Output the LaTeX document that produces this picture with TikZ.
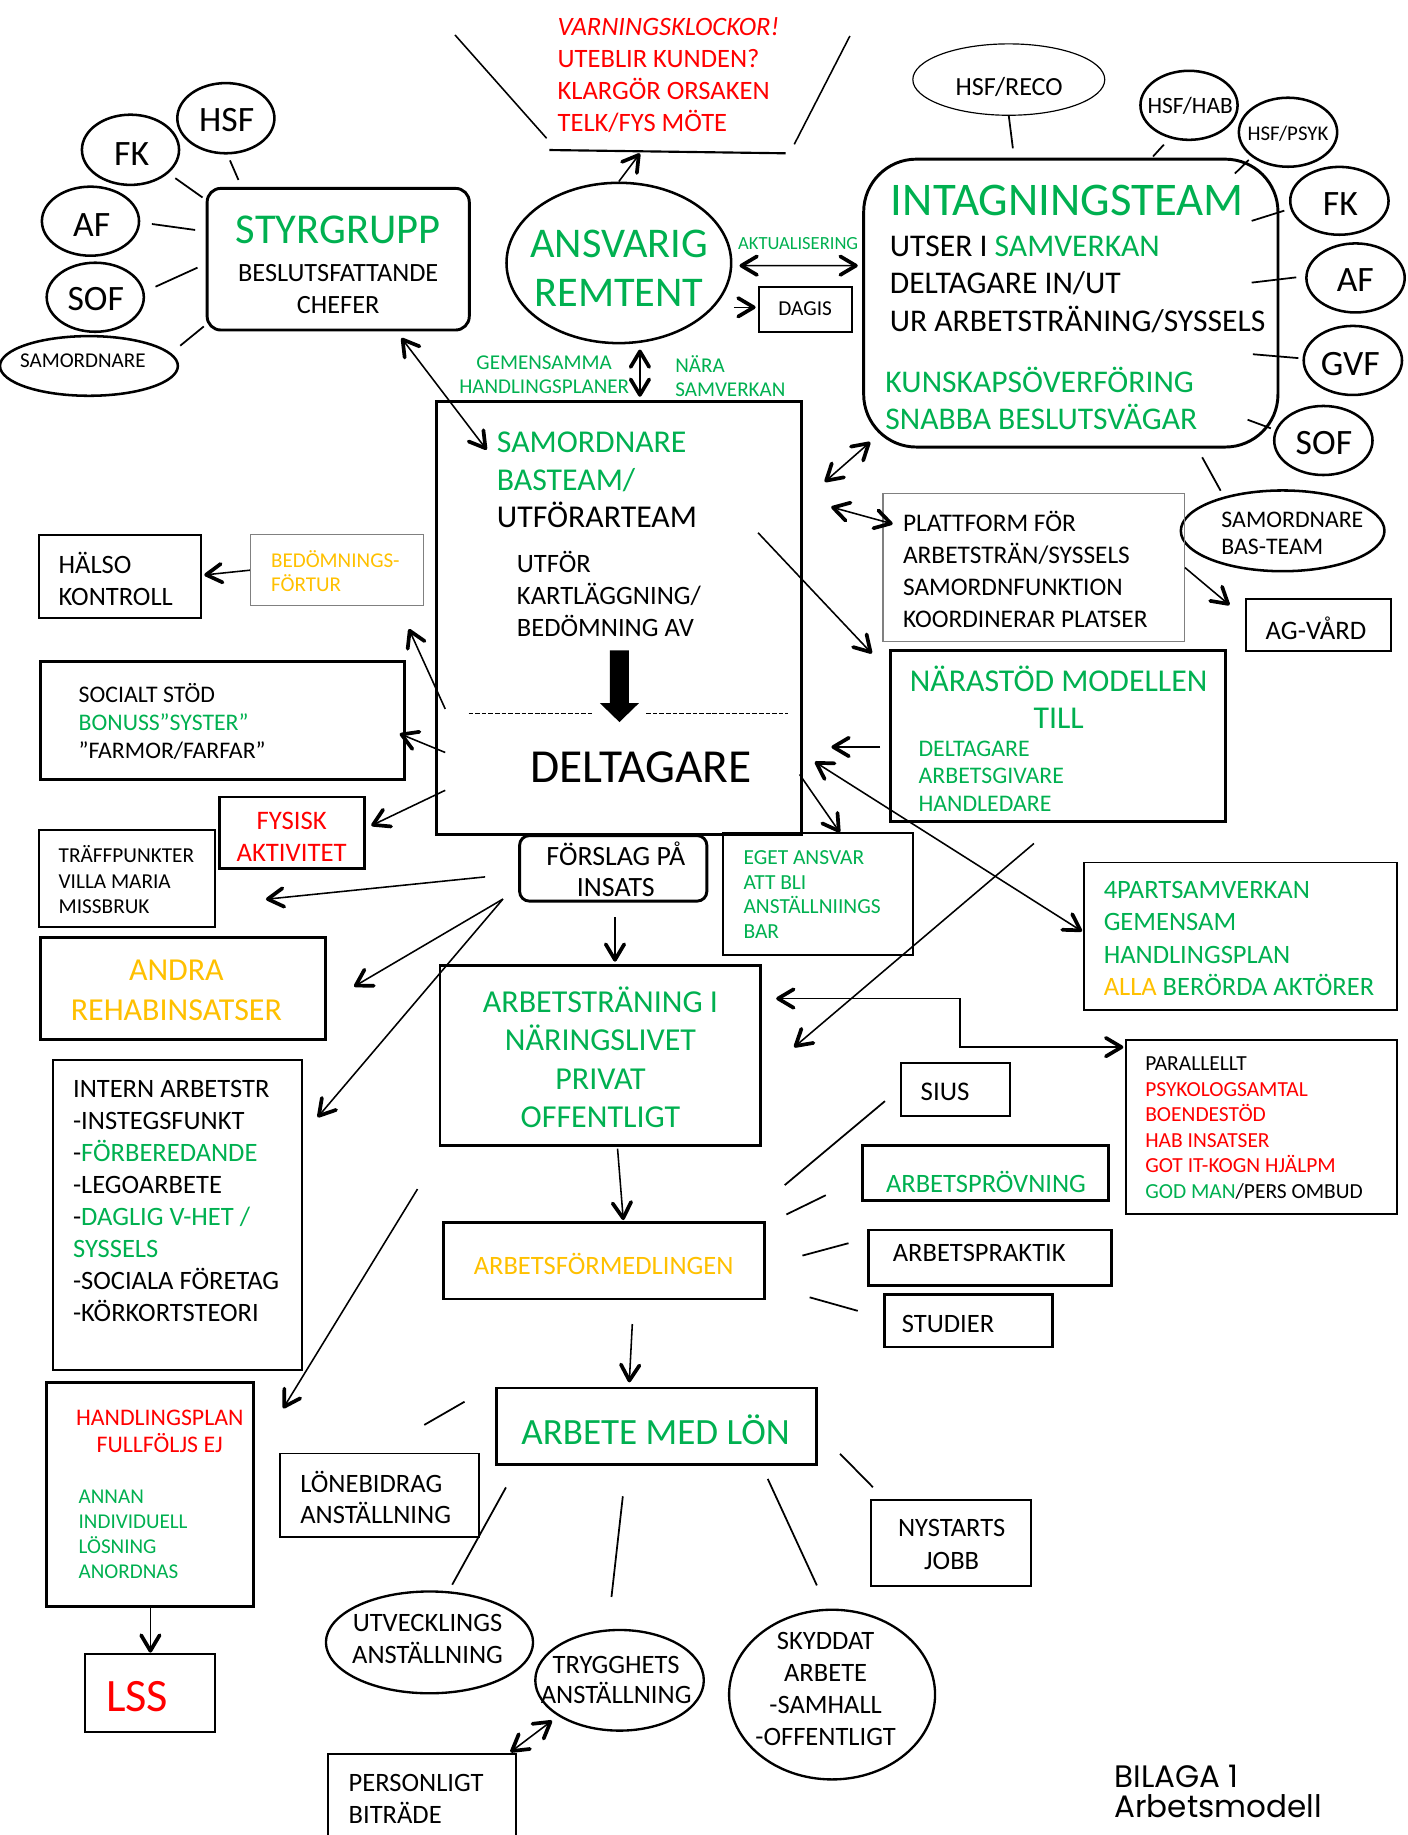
\documentclass[tikz,border=0pt]{standalone}
\usepackage{fontspec}
\setmainfont{Carlito}
\newfontfamily\bilagafont{Poppins}
\usetikzlibrary{arrows.meta,fit,shapes.geometric}
\definecolor{grn}{RGB}{0,176,80}
\definecolor{org}{RGB}{255,192,0}
\newcommand{\fsz}[2]{\fontsize{#1pt}{#2pt}\selectfont}
\tikzset{
  box/.style={draw, inner sep=0pt, line width=1.5pt},
  tbox/.style={box, line width=1pt},
  gbox/.style={box, draw=gray, line width=0.6pt},
  oval/.style 2 args={ellipse, draw, line width=1.3pt, inner sep=0pt,
    minimum width=#1*0.6pt, minimum height=#2*0.6pt},
  txt/.style={inner sep=0pt, align=left, anchor=west},
  lbl/.style={inner sep=0pt, align=center},
  spoke/.style={line width=0.9pt},
  arr/.style={->, line width=0.8pt},
  dbl/.style={<->, line width=0.8pt},
}
\begin{document}
\begin{tikzpicture}[x=0.6pt, y=-0.6pt,
  >={Straight Barb[length=8pt,width=9.5pt,line width=1.9pt,round]}]
\useasboundingbox (0,0) rectangle (1203,1568);

% styrgrupp with its partners
\node[box, rounded corners=7pt, fit={(177,161) (401,282)}] (styr) {};
\node[lbl, font=\fsz{21.8}{26}, text=grn] (styrname) at (289,196) {STYRGRUPP};
\node[lbl, font=\fsz{13.5}{16.3}] (styrtxt) at (289,247) {BESLUTSFATTANDE\\CHEFER};
\node[oval={83}{60}] (hsf) at (193,101) {};
\node[lbl, font=\fsz{18.3}{22}] (hsftxt) at (193.7,103) {HSF};
\node[oval={83}{60}] (fk) at (111.5,128) {};
\node[lbl, font=\fsz{18.3}{22}] (fktxt) at (112.5,131.6) {FK};
\node[oval={83}{59}] (af) at (77.3,189) {};
\node[lbl, font=\fsz{18.3}{22}] (aftxt) at (78.3,192.2) {AF};
\node[oval={83}{59}] (sof) at (81.4,254) {};
\node[lbl, font=\fsz{18.3}{22}] (softxt) at (81.8,255.5) {SOF};
\node[oval={152}{51}] (saml) at (76,312.7) {};
\node[lbl, font=\fsz{10.8}{13}] (samltxt) at (70.8,308.2) {SAMORDNARE};

% varningsklockor
\draw[line width=0.8pt] (388.8,29.9) -- (467.1,118.2);
\draw[line width=0.8pt] (726.2,30.8) -- (678.7,123.3);
\draw[line width=1.1pt] (469.4,128.2) -- (671.3,131);
\node[txt, font=\fsz{13.6}{16.4}, text=red] (warn) at (476.2,64.5)
  {\textit{VARNINGSKLOCKOR!}\\UTEBLIR KUNDEN?\\KLARGÖR ORSAKEN\\TELK/FYS MÖTE};

% ansvarig remitent
\node[oval={192}{137}] (ans) at (528.8,224.7) {};
\node[lbl, font=\fsz{21.7}{25.2}, text=grn] (anstxt) at (529,229) {ANSVARIG\\REMTENT};
\node[lbl, font=\fsz{9.5}{11}, text=grn] (akt) at (682,208) {AKTUALISERING};
\node[tbox, fit={(648.5,245) (728,283.4)}] (dagis) {};
\node[lbl, font=\fsz{10.9}{13}] (dagistxt) at (688,263.5) {DAGIS};
\node[lbl, font=\fsz{10.8}{12.2}, text=grn] (gem) at (465,320) {GEMENSAMMA\\HANDLINGSPLANER};
\node[txt, font=\fsz{10.8}{12.2}, text=grn] (nara2) at (576.7,321.5) {NÄRA\\SAMVERKAN};

% intagningsteam with its partners
\node[box, rounded corners=27pt, fit={(738,136) (1092,382)}] (intag) {};
\node[txt, font=\fsz{24}{28}, text=grn] (intagname) at (761,171) {INTAGNINGSTEAM};
\node[txt, font=\fsz{16.2}{19.3}] (intagtxt) at (760,243)
  {UTSER I \textcolor{grn}{SAMVERKAN}\\DELTAGARE IN/UT\\UR ARBETSTRÄNING/SYSSELS};
\node[txt, font=\fsz{16.2}{18.8}, text=grn] (intagknow) at (756.3,340.4)
  {KUNSKAPSÖVERFÖRING\\SNABBA BESLUTSVÄGAR};
\node[oval={164}{61}, line width=0.6pt] (reco) at (862,68) {};
\node[lbl, font=\fsz{13.4}{16}] (recotxt) at (862.3,74) {HSF/RECO};
\node[oval={83}{59}] (hab) at (1016,90) {};
\node[lbl, font=\fsz{12}{14}] (habtxt) at (1017,90.6) {HSF/HAB};
\node[oval={84}{59}] (psyk) at (1100.6,113) {};
\node[lbl, font=\fsz{10.7}{13}] (psyktxt) at (1100.6,114.5) {HSF/PSYK};
\node[oval={84}{58}] (fkr) at (1144.5,171.6) {};
\node[lbl, font=\fsz{18.3}{22}] (fkrtxt) at (1145.4,174.3) {FK};
\node[oval={84}{59}] (afr) at (1158.3,237.5) {};
\node[lbl, font=\fsz{18.3}{22}] (afrtxt) at (1158.1,239.2) {AF};
\node[oval={84}{59}] (gvf) at (1156,308) {};
\node[lbl, font=\fsz{18.3}{22}] (gvftxt) at (1153.8,311) {GVF};
\node[oval={84}{59}] (sofr) at (1130.8,376.4) {};
\node[lbl, font=\fsz{18.3}{22}] (sofrtxt) at (1131.3,378.2) {SOF};
\node[oval={174}{69}] (basteam) at (1096,453.6) {};
\node[txt, font=\fsz{12.2}{13.7}] (basteamtxt) at (1043.4,455.7) {SAMORDNARE\\BAS-TEAM};

% samordnare basteam / deltagare
\node[box, fit={(373,343) (685,713)}] (main) {};
\node[txt, font=\fsz{16.3}{19.3}] (samtxt) at (424.3,410.1)
  {\textcolor{grn}{SAMORDNARE}\\\textcolor{grn}{BASTEAM/}\\UTFÖRARTEAM};
\node[txt, font=\fsz{13.6}{16.3}] (utfor) at (441.4,507.5) {UTFÖR\\KARTLÄGGNING/\\BEDÖMNING AV};
\node[lbl, font=\fsz{24.3}{28}] (delt) at (547.8,655.8) {DELTAGARE};
\fill (521.2,555.7) -- (537.4,555.7) -- (537.4,600.8) -- (546,600.8) -- (529.3,617)
  -- (512.6,600.8) -- (521.2,600.8) -- cycle;
\draw[line width=0.6pt, dash pattern=on 2.4pt off 1pt] ([shift={(28.6,267.6)}]main.north west) -- ++(105.4,0);
\draw[line width=0.6pt, dash pattern=on 2.4pt off 1pt] ([shift={(180.4,267.6)}]main.north west) -- ++(121.6,0);

% right of deltagare
\node[gbox, fit={(754.5,422) (1012,548)}] (plat) {};
\node[txt, font=\fsz{13}{16.4}] (plattxt) at (771.3,486.4)
  {PLATTFORM FÖR\\ARBETSTRÄN/SYSSELS\\SAMORDNFUNKTION\\KOORDINERAR PLATSER};
\node[tbox, line width=1.2pt, fit={(1064.6,512) (1188.5,556)}] (agv) {};
\node[lbl, font=\fsz{13.7}{16}] (agvtxt) at (1124.5,536.5) {AG-VÅRD};
\node[box, fit={(761,556) (1047,702)}] (nara) {};
\node[lbl, font=\fsz{16.3}{19}, text=grn] (naraname) at (904.6,595.5) {NÄRASTÖD MODELLEN\\TILL};
\node[txt, font=\fsz{12.2}{14.3}, text=grn] (naratxt) at (784.6,663.3) {DELTAGARE\\ARBETSGIVARE\\HANDLEDARE};
\node[tbox, line width=0.8pt, fit={(618,712) (780,816)}] (eget) {};
\node[txt, font=\fsz{11}{12.7}, text=grn] (egettxt) at (635,764.4) {EGET ANSVAR\\ATT BLI\\ANSTÄLLNIINGS\\BAR};
\node[tbox, fit={(926,737) (1194,863)}] (fyra) {};
\node[txt, font=\fsz{13.6}{16.5}, text=grn] (fyratxt) at (942.8,802)
  {4PARTSAMVERKAN\\GEMENSAM\\HANDLINGSPLAN\\\textcolor{org}{ALLA} BERÖRDA AKTÖRER};

% left of deltagare
\node[tbox, fit={(33,457) (172,528)}] (halso) {};
\node[txt, font=\fsz{13.6}{16.4}] (halsotxt) at (49.8,494.3) {HÄLSO\\KONTROLL};
\node[gbox, fit={(214,457) (362,517.5)}] (bed) {};
\node[txt, font=\fsz{10.8}{12.3}, text=org] (bedtxt) at (231.3,487.8) {BEDÖMNINGS-\\FÖRTUR};
\node[box, fit={(35,565) (346,666)}] (social) {};
\node[txt, font=\fsz{12.2}{14.3}] (socialtxt) at (66.9,616.4)
  {SOCIALT STÖD\\\textcolor{grn}{BONUSS”SYSTER”}\\”FARMOR/FARFAR”};
\node[box, fit={(187.4,681) (311.3,742)}] (fysisk) {};
\node[lbl, font=\fsz{13.7}{16.5}, text=red] (fysisktxt) at (249.2,715) {FYSISK\\AKTIVITET};
\node[tbox, fit={(33,709) (184,792)}] (traff) {};
\node[txt, font=\fsz{10.9}{13.1}] (trafftxt) at (49.8,751.7) {TRÄFFPUNKTER\\VILLA MARIA\\MISSBRUK};
\node[box, fit={(35,801) (278,888)}] (andra) {};
\node[lbl, font=\fsz{16.4}{20.4}, text=org] (andratxt) at (150.7,846.5) {ANDRA\\REHABINSATSER};
\node[tbox, fit={(45,906) (258,1171)}] (intern) {};
\node[txt, font=\fsz{13.6}{16.4}] (interntxt) at (62.1,1026)
  {INTERN ARBETSTR\\-INSTEGSFUNKT\\-\textcolor{grn}{FÖRBEREDANDE}\\-LEGOARBETE\\-\textcolor{grn}{DAGLIG V-HET /}\\\textcolor{grn}{SYSSELS}\\-SOCIALA FÖRETAG\\-KÖRKORTSTEORI};
\node[box, fit={(40,1181) (217,1373)}] (hplan) {};
\node[lbl, font=\fsz{12.2}{13.8}, text=red] (hplantxt) at (136.5,1223.2) {HANDLINGSPLAN\\FULLFÖLJS EJ};
\node[txt, font=\fsz{10.8}{12.8}, text=grn] (annan) at (66.9,1310.8) {ANNAN\\INDIVIDUELL\\LÖSNING\\ANORDNAS};
\node[tbox, fit={(73,1413) (184,1480)}] (lss) {};
\node[lbl, font=\fsz{23.8}{28}, text=red] (lsstxt) at (117.2,1449.6) {LSS};

% centre column
\node[box, rounded corners=5pt, fit={(444,714) (604,770)}] (forslag) {};
\node[lbl, font=\fsz{14.3}{15.9}] (forslagtxt) at (526.2,743.2) {FÖRSLAG PÅ\\INSATS};
\node[box, fit={(376,825) (650,979)}] (arbtr) {};
\node[lbl, font=\fsz{16.4}{19.7}, text=grn] (arbtrtxt) at (513.1,903.6)
  {ARBETSTRÄNING I\\NÄRINGSLIVET\\PRIVAT\\OFFENTLIGT};
\node[box, fit={(379,1045) (653,1110)}] (afm) {};
\node[lbl, font=\fsz{13.6}{16}, text=org] (afmtxt) at (515.8,1080) {ARBETSFÖRMEDLINGEN};
\node[box, fit={(424,1186) (698,1251)}] (lon) {};
\node[lbl, font=\fsz{19}{22}, text=grn] (lontxt) at (560.2,1221.8) {ARBETE MED LÖN};

% parallel insatser
\node[tbox, fit={(962,889) (1194,1037)}] (par) {};
\node[txt, font=\fsz{11}{13.1}, text=red] (partxt) at (978.3,964)
  {\textcolor{black}{PARALLELLT}\\PSYKOLOGSAMTAL\\BOENDESTÖD\\HAB INSATSER\\GOT IT-KOGN HJÄLPM\\\textcolor{grn}{GOD MAN}\textcolor{black}{/PERS OMBUD}};

% arbetsformedlingens insatser
\node[tbox, fit={(770,908) (863,954)}] (sius) {};
\node[txt, font=\fsz{13.8}{16}] (siustxt) at (786.4,932.7) {SIUS};
\node[box, fit={(737,979) (947,1026)}] (prov) {};
\node[lbl, font=\fsz{13.6}{16}, text=grn] (provtxt) at (842.5,1009.6) {ARBETSPRÖVNING};
\node[box, fit={(742,1051) (950,1098.5)}] (prakt) {};
\node[txt, font=\fsz{13.6}{16}] (prakttxt) at (762.6,1070.9) {ARBETSPRAKTIK};
\node[box, fit={(756,1106) (899,1151)}] (stud) {};
\node[txt, font=\fsz{13.6}{16}] (studtxt) at (770.3,1131.2) {STUDIER};

% anstallningsformer
\node[tbox, fit={(239,1242) (409,1313)}] (lonebid) {};
\node[txt, font=\fsz{13.6}{16.2}] (lonebidtxt) at (256.3,1279.5) {LÖNEBIDRAG\\ANSTÄLLNING};
\node[tbox, fit={(744,1282) (881,1355)}] (nyst) {};
\node[lbl, font=\fsz{13.6}{16.6}] (nysttxt) at (813.2,1319.8) {NYSTARTS\\JOBB};
\node[oval={177}{87}, line width=1.2pt] (utv) at (367,1403.4) {};
\node[lbl, font=\fsz{13.6}{16.2}] (utvtxt) at (365.3,1400.5) {UTVECKLINGS\\ANSTÄLLNING};
\node[oval={144}{86}, line width=1.2pt] (tryg) at (529.4,1435.8) {};
\node[lbl, font=\fsz{13.6}{15.4}] (trygtxt) at (526.5,1435.4) {TRYGGHETS\\ANSTÄLLNING};
\node[oval={176}{145}, line width=1.2pt] (skyd) at (711,1448) {};
\node[lbl, font=\fsz{13.6}{16.4}] (skydtxt) at (705.5,1443.2) {SKYDDAT\\ARBETE\\-SAMHALL\\-OFFENTLIGT};
\node[tbox, fit={(280,1499) (441,1585)}] (pers) {};
\node[txt, font=\fsz{13.6}{16.2}] (perstxt) at (297.6,1537.2) {PERSONLIGT\\BITRÄDE};

\node[txt, font=\bilagafont\fsz{15.9}{15.3}] (bilaga) at (952,1531) {BILAGA 1\\Arbetsmodell};

% spokes
\draw[spoke] ([shift={(3.5,5)}]hsf.south) -- ([shift={(28,-6)}]styr.north west);
\draw[spoke] ([shift={(8.2,2.3)}]fk.south east) -- ([shift={(-2.7,9)}]styr.north west);
\draw[spoke] ([shift={(9.9,2.4)}]af.east) -- ([shift={(-9,-25)}]styr.west);
\draw[spoke] ([shift={(8.9,-9)}]sof.east) -- ([shift={(-7,7.2)}]styr.west);
\draw[spoke] ([shift={(23.5,1.5)}]saml.north east) -- ([shift={(-1.6,-4.3)}]styr.south west);
\draw[spoke] (reco.south) -- ([shift={(-49.5,-8)}]intag.north);
\draw[spoke] ([shift={(-21.5,3)}]hab.south) -- ([shift={(-108,-1)}]intag.north east);
\draw[spoke] ([shift={(-3.1,2.1)}]psyk.south west) -- ([shift={(-38,13.5)}]intag.north east);
\draw[spoke] ([shift={(-4,8.4)}]fkr.west) -- ([shift={(-23.7,54)}]intag.north east);
\draw[spoke] ([shift={(-7.6,-0.5)}]afr.west) -- ([shift={(-23.7,-17.5)}]intag.east);
\draw[spoke] ([shift={(-3.5,-2)}]gvf.west) -- ([shift={(-22.7,43.7)}]intag.east);
\draw[spoke] ([shift={(-1.8,-10.4)}]sofr.west) -- ([shift={(-27.2,-24.6)}]intag.south east);
\draw[spoke] ([shift={(-66,7.5)}]intag.south east) -- ([shift={(-53,1.3)}]basteam.north);
\draw[spoke] ([shift={(16.3,-31.1)}]afm.north east) -- ([shift={(-13,-13.9)}]sius.south west);
\draw[spoke] ([shift={(17.7,-6)}]afm.north east) -- ([shift={(-30.1,18.8)}]prov.west);
\draw[spoke] ([shift={(31.4,-4.6)}]afm.east) -- ([shift={(-15.7,-12.45)}]prakt.west);
\draw[spoke] ([shift={(37.6,-2.7)}]afm.south east) -- ([shift={(-21.8,-8.4)}]stud.west);
\draw[spoke] ([shift={(-25.8,13)}]lon.north west) -- ([shift={(-47.3,-23.6)}]lonebid.north east);
\draw[spoke] ([shift={(9.6,18.7)}]lon.south west) -- ([shift={(19.4,-4.8)}]utv.north);
\draw[spoke] ([shift={(-28.8,26.3)}]lon.south) -- ([shift={(-6.9,-27.2)}]tryg.north);
\draw[spoke] ([shift={(-43.2,11.5)}]lon.south east) -- ([shift={(-13,-19.8)}]skyd.north);
\draw[spoke] ([shift={(18.6,23.8)}]lon.east) -- ([shift={(2.7,-10.4)}]nyst.north west);

% arrows
\draw[arr] (ans.north) -- ++(18,-24);
\draw[dbl] ([shift={(6,2.3)}]ans.east) -- ([shift={(-3.8,-32)}]intag.west);
\draw[arr] ([shift={(-20.5,-1.6)}]dagis.west) -- ([shift={(-2,-1.6)}]dagis.west);
\draw[dbl] ([shift={(18,4.4)}]ans.south) -- ([shift={(17.8,-2.7)}]main.north);
\draw[dbl] ([shift={(-59.2,5.6)}]styr.south east) -- ([shift={(-8.5,-25.8)}]samtxt.west);
\draw[dbl] ([shift={(18.5,70)}]main.north east) -- ([shift={(6.8,-5.5)}]intag.south west);
\draw[dbl] ([shift={(24,91.5)}]main.north east) -- ([shift={(8.8,26.2)}]plat.north west);
\draw[arr] (plat.east) -- ([shift={(-13,6)}]agv.north west);
\draw[arr] ([shift={(-38.5,113.5)}]main.north east) -- ([shift={(-14.8,3.6)}]nara.north west);
\draw[arr] ([shift={(-7.7,9.3)}]nara.west) -- ([shift={(24.2,110.3)}]main.east);
\draw[dbl] ([shift={(-0.6,-4.2)}]fyra.west) -- ([shift={(10,123)}]main.east);
\draw[arr] ([shift={(-3,133.8)}]main.east) -- ([shift={(100.3,0)}]eget.north west);
\draw[arr] (bed.west) -- ([shift={(1.7,-1.2)}]halso.east);
\draw[arr] ([shift={(8.7,77.8)}]main.west) -- ([shift={(-13.1,19.5)}]bed.south east);
\draw[arr] ([shift={(8.7,115)}]main.west) -- ([shift={(-5.7,11.5)}]social.east);
\draw[arr] ([shift={(8.7,147.3)}]main.west) -- ([shift={(4.7,-6)}]fysisk.east);
\draw[arr] ([shift={(-28.2,7.3)}]forslag.west) -- ([shift={(42.4,17.9)}]traff.east);
\draw[arr] ([shift={(-13,-3)}]forslag.south west) -- ([shift={(23.3,-1.5)}]andra.east);
\draw[arr] ([shift={(-13,-3)}]forslag.south west) -- ([shift={(12.6,49.5)}]intern.north east);
\draw[arr] ([shift={(-18,35.8)}]arbtr.south west) -- ([shift={(23.7,23.7)}]hplan.north east);
\draw[arr] (hplan.south) -- (lss.north);
\draw[arr] ([shift={(1.5,12.4)}]forslag.south) -- ([shift={(12.5,-2)}]arbtr.north);
\draw[arr] ([shift={(14.7,1.3)}]arbtr.south) -- ([shift={(16.6,-1.2)}]afm.north);
\draw[arr] ([shift={(24.3,20.1)}]afm.south) -- ([shift={(-23.3,-3.5)}]lon.north);
\draw[arr] ([shift={(-20.5,17.5)}]nara.south) -- ([shift={(27.3,-7.2)}]arbtr.east);
\draw[dbl] ([shift={(12,29.5)}]arbtr.north east) -- ++(157,0) |- ([shift={(-1.3,6.6)}]par.north west);
\draw[dbl] ([shift={(-5.7,-1)}]pers.north east) -- ([shift={(-6.1,3.4)}]tryg.south west);
\end{tikzpicture}
\end{document}
